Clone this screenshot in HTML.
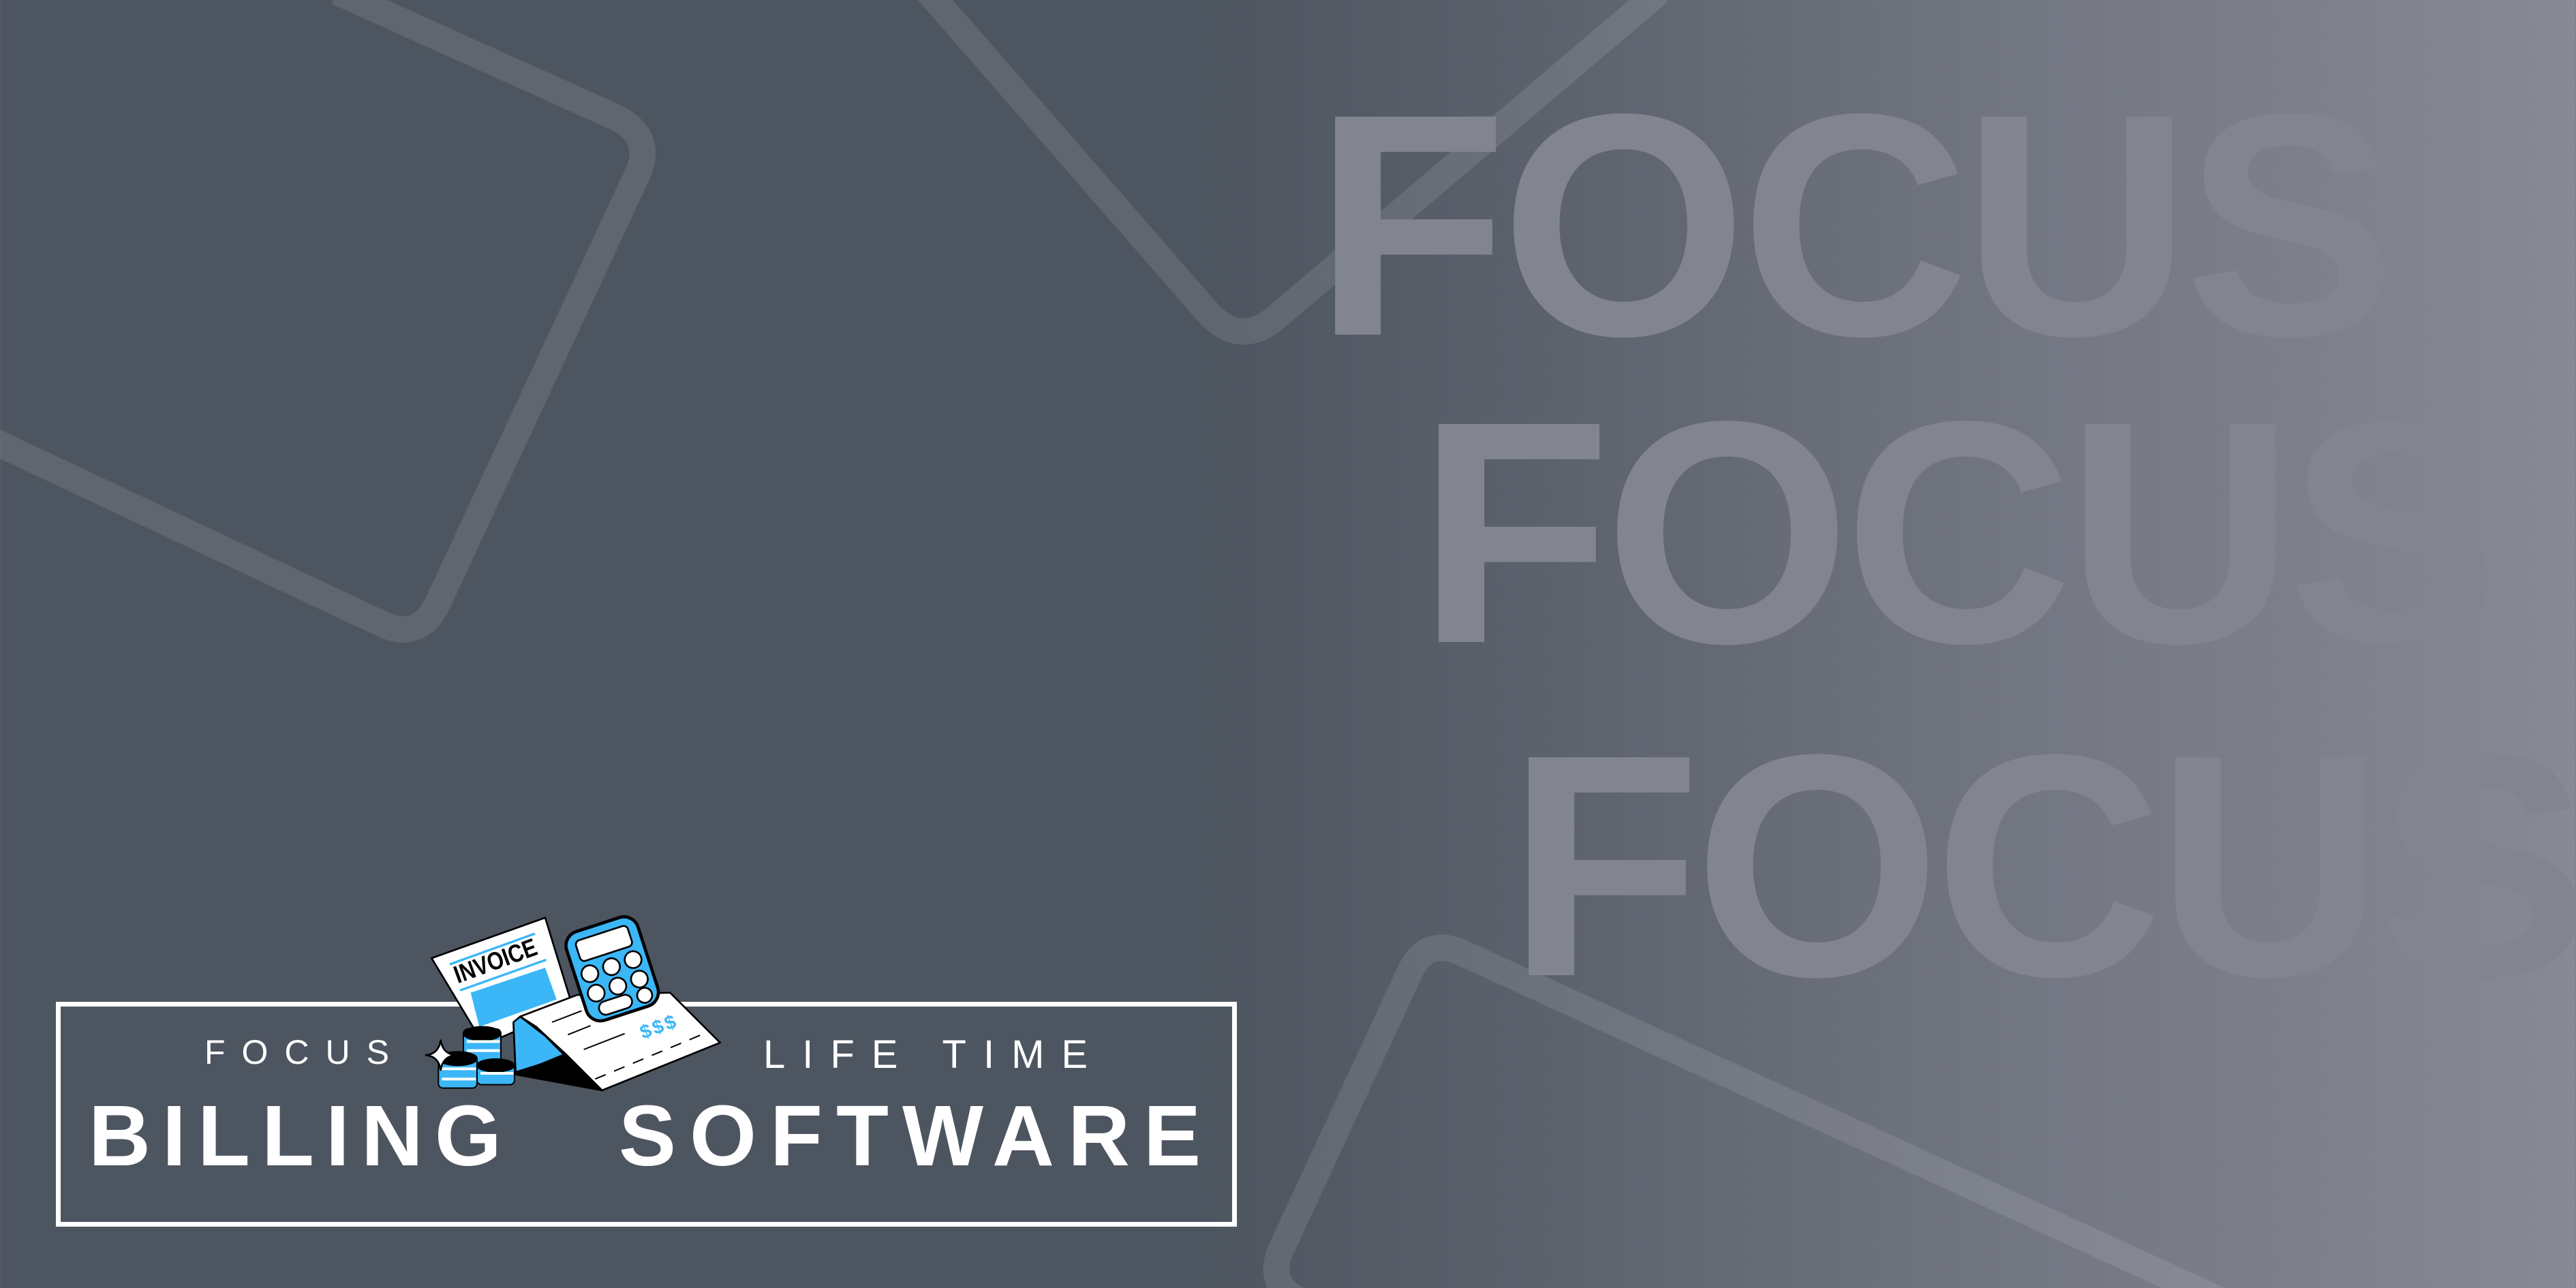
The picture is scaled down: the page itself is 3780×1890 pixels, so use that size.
<!DOCTYPE html>
<html><head><meta charset="utf-8"><style>
html,body{margin:0;padding:0}
body{width:3780px;height:1890px;overflow:hidden;position:relative;background:linear-gradient(90deg,#4d5560 0%,#4d5560 47%,#5c626d 60%,#747884 80%,#878994 100%);font-family:"Liberation Sans",sans-serif}
.f{position:absolute;font-weight:bold;font-size:465px;line-height:1;color:#82848f;white-space:nowrap;letter-spacing:-10px}
.t{position:absolute;color:#fff;white-space:nowrap;line-height:1}
</style></head><body>
<svg style="position:absolute;left:0;top:0" width="3780" height="1890" viewBox="0 0 1568 784">
<g fill="none" stroke="rgba(255,255,255,0.1)" stroke-width="16" stroke-linejoin="round">
<path d="M205,-5 L376,72 Q398,84 388,106 L266,368 Q255,390 233,380 L-5,268"/>
<path d="M565,-5 L735,190 Q755,212 777,193 L1010,-5"/>
<path d="M1370,800 L890,580 Q868,570 858,592 L780,760 Q770,782 792,792 L820,805"/>
</g>
</svg>
<div class="f" style="left:1928px;top:98px">FOCUS</div>
<div class="f" style="left:2080px;top:549px">FOCUS</div>
<div class="f" style="left:2212px;top:1038px">FOCUS</div>

<div style="position:absolute;left:82px;top:1470px;width:1719px;height:316px;border:7px solid #fff"></div>
<div class="t" style="left:300px;top:1519px;font-size:50px;letter-spacing:24px">FOCUS</div>
<div class="t" style="left:1120px;top:1519px;font-size:58px;letter-spacing:25px">LIFE TIME</div>
<div class="t" style="left:130px;top:1604px;font-size:126px;font-weight:bold;letter-spacing:17px">BILLING</div>
<div class="t" style="left:908px;top:1604px;font-size:126px;font-weight:bold;letter-spacing:20px">SOFTWARE</div>

<svg style="position:absolute;left:600px;top:1320px" width="480" height="300" viewBox="0 0 1440 900">
<g stroke="#000" stroke-width="8" stroke-linejoin="round">
<polygon points="100,258 600,80 720,470 330,640" fill="#fff"/>
<line x1="180" y1="285" x2="555" y2="150" stroke="#3bb6f7" stroke-width="10"/>
<line x1="225" y1="400" x2="605" y2="265" stroke="#3bb6f7" stroke-width="10"/>
<polygon points="272,410 600,300 650,440 310,560" fill="#3bb6f7" stroke="none"/>
<polygon points="490,515 740,420 1150,410 1370,630 850,840 690,680 560,560" fill="#fff"/>
<polygon points="460,540 490,515 600,600 690,690 470,760" fill="#3bb6f7"/>
<polygon points="470,770 690,680 850,840" fill="#000"/>
<line x1="630" y1="540" x2="760" y2="490" stroke-width="6"/>
<line x1="700" y1="595" x2="800" y2="555" stroke-width="6"/>
<line x1="770" y1="660" x2="950" y2="590" stroke-width="6"/>
<path d="M820,790 L1300,590" stroke-width="6" stroke-dasharray="50,40" fill="none"/>
<g transform="translate(895,305) rotate(-18)">
<rect x="-165" y="-205" width="330" height="410" rx="65" fill="#3bb6f7" stroke-width="14"/>
<rect x="-120" y="-165" width="240" height="95" rx="20" fill="#fff"/>
<circle cx="-100" cy="-10" r="37" fill="#fff"/><circle cx="0" cy="-10" r="37" fill="#fff"/><circle cx="100" cy="-10" r="37" fill="#fff"/>
<circle cx="-100" cy="80" r="37" fill="#fff"/><circle cx="0" cy="80" r="37" fill="#fff"/><circle cx="100" cy="80" r="37" fill="#fff"/>
<rect x="-110" y="125" width="150" height="60" rx="30" fill="#fff"/><circle cx="100" cy="155" r="33" fill="#fff"/>
</g>
<g fill="#3bb6f7" stroke="#000" stroke-width="6">
<rect x="240" y="570" width="165" height="160" rx="20"/>
<rect x="130" y="690" width="170" height="140" rx="20"/>
<rect x="300" y="715" width="165" height="100" rx="20"/>
<ellipse cx="322" cy="590" rx="82" ry="30" fill="#000"/>
<ellipse cx="215" cy="700" rx="85" ry="30" fill="#000"/>
<ellipse cx="382" cy="730" rx="82" ry="28" fill="#000"/>
</g>
<g stroke="#fff" stroke-width="12">
<line x1="255" y1="625" x2="400" y2="625"/><line x1="255" y1="665" x2="400" y2="665"/>
<line x1="145" y1="745" x2="295" y2="745"/><line x1="145" y1="790" x2="295" y2="790"/>
<line x1="315" y1="765" x2="460" y2="765"/>
</g>
<path d="M140,620 Q150,680 205,685 Q150,690 140,750 Q130,690 75,685 Q130,680 140,620Z" fill="#fff"/>
</g>
<text transform="translate(215,370) rotate(-20)" font-family="Liberation Sans" font-weight="bold" font-size="110" fill="#000" textLength="380" lengthAdjust="spacingAndGlyphs">INVOICE</text>
<text transform="translate(1030,615) rotate(-20)" font-family="Liberation Sans" font-weight="bold" font-size="85" fill="#3bb6f7" letter-spacing="10">$$$</text>
</svg>
</body></html>
